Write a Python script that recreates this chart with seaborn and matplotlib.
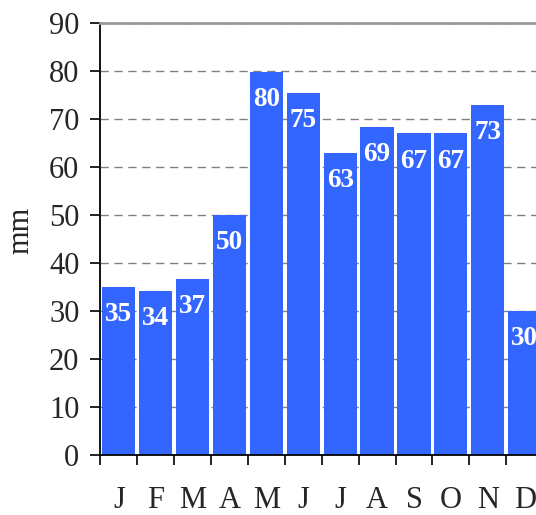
import matplotlib
matplotlib.use("Agg")
import matplotlib.pyplot as plt
import seaborn as sns
import pandas as pd
import numpy as np

months = ["Jan", "Feb", "Mar", "Apr", "May", "Jun", "Jul", "Aug", "Sep", "Oct", "Nov", "Dec"]
tick_labels = ["J", "F", "M", "A", "M", "J", "J", "A", "S", "O", "N", "D"]
rain_mm = [35.0, 34.2, 36.7, 50.0, 79.8, 75.4, 62.9, 68.4, 67.0, 67.0, 72.9, 30.0]
bar_labels = ["35", "34", "37", "50", "80", "75", "63", "69", "67", "67", "73", "30"]
y_ticks = [0, 10, 20, 30, 40, 50, 60, 70, 80, 90]

sns.set_style("white")
plt.rcParams["font.family"] = ["Liberation Serif", "DejaVu Serif"]

df = pd.DataFrame({"month": months, "rain": rain_mm})

W, H = 536, 515
fig = plt.figure(figsize=(W / 100, H / 100), dpi=100)
left, right, top, bottom = 100.3, 543.1, 23, 455
ax = fig.add_axes([left / W, (H - bottom) / H, (right - left) / W, (bottom - top) / H])

sns.barplot(data=df, x="month", y="rain", order=months, color="#3366ff",
            saturation=1, width=0.9, ax=ax, zorder=2)
for p in ax.patches:
    p.set_edgecolor("none")

ax.set_xlim(-0.5, 11.5)
ax.set_ylim(0, 90)
ax.set_yticks(y_ticks)
ax.set_yticklabels([str(v) for v in y_ticks], fontsize=22)
ax.set_xticks(np.arange(12))
ax.set_xticklabels(tick_labels, fontsize=22)
ax.set_xticks(np.arange(-0.5, 12, 1), minor=True)
ax.tick_params(axis="x", which="major", bottom=True, length=0, pad=22)
ax.tick_params(axis="x", which="minor", bottom=True, length=7, width=1.2, color="black", direction="out")
ax.tick_params(axis="y", which="major", left=True, length=7, width=1.2, color="black", direction="out", pad=8)
ax.set_xlabel("")
ax.set_ylabel("mm", fontsize=22)
ax.yaxis.set_label_coords(-0.147, 0.52)

ax.grid(axis="y", linestyle=(0, (6, 4)), color="#808080", linewidth=1.0, zorder=0)
ax.set_axisbelow(True)

for s in ["left", "bottom"]:
    ax.spines[s].set_color("black")
    ax.spines[s].set_linewidth(1.3)
ax.spines["top"].set_color("#999999")
ax.spines["top"].set_linewidth(2.0)
ax.spines["right"].set_visible(False)

for i, (v, lab) in enumerate(zip(rain_mm, bar_labels)):
    ax.annotate(lab, xy=(i, v), xytext=(0, -11), textcoords="offset points",
                ha="center", va="top", color="white", fontsize=19.5, fontweight="bold")

fig.savefig("out.png", dpi=100)
